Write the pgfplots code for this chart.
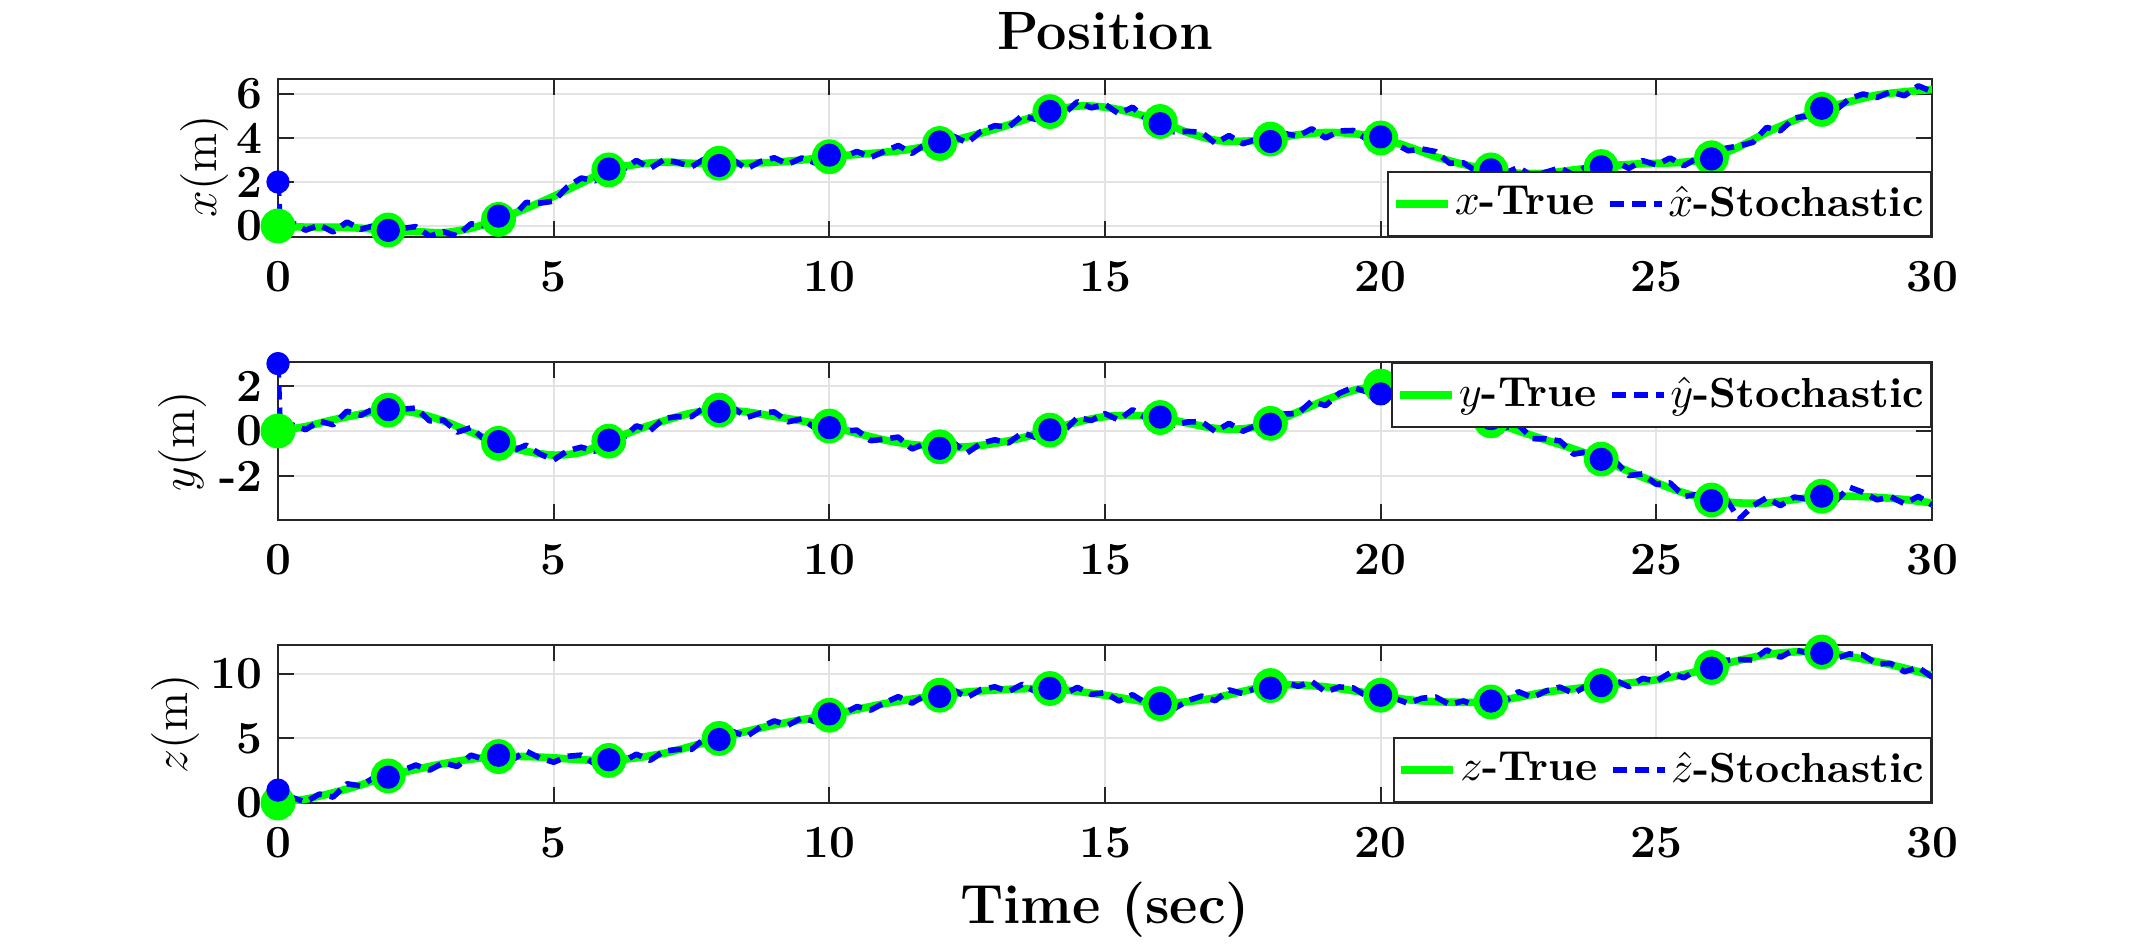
\documentclass[border=0pt]{standalone}
\usepackage{pgfplots}
\pgfplotsset{compat=1.18}
\definecolor{mgreen}{rgb}{0,1,0}
\definecolor{mblue}{rgb}{0,0,1}
\definecolor{axc}{rgb}{0.15,0.15,0.15}
\pgfplotsset{
  panel/.style={
    scale only axis, width=413.5pt, height=39.5pt,
    xmin=0, xmax=30, xtick={0,5,10,15,20,25,30},
    tick align=inside, major tick length=4.1pt,
    axis line style={axc, line width=0.5pt},
    tick style={axc, line width=0.5pt},
    grid=major, major grid style={gray!22, line width=0.5pt},
    tick label style={font=\fontsize{11.5}{13}\selectfont\bfseries},
    /pgf/number format/assume math mode=true,
    xticklabel style={yshift=-2.5pt},
    yticklabel style={xshift=-0.3pt},
    ylabel style={font=\fontsize{12.5}{14}\selectfont, anchor=center, rotate=0},
    legend style={font=\fontsize{10.5}{12}\selectfont, draw=axc, line width=0.5pt, fill=white,
      inner xsep=1pt, inner ysep=2pt, nodes={inner xsep=0.8pt, inner ysep=1.5pt}},
    legend columns=2,
    legend cell align=left,
    legend image code/.code={\draw[##1, mark=none] (0pt,0pt) -- (13pt,0pt);},
    /tikz/every even column/.append style={column sep=2.5pt},
  },
  truestyle/.style={mgreen, line width=1.9pt, solid, smooth, mark=*, mark size=3.4pt,
    mark options={solid, fill=mgreen, draw=mgreen},
    mark indices={1,5,9,13,17,21,25,29,33,37,41,45,49,53,57}},
  eststyle/.style={mblue, line width=1.4pt, dash pattern=on 3.5pt off 2pt, line join=round, mark=*, mark size=2.2pt,
    mark options={solid, fill=mblue, draw=mblue},
    mark indices={1,10,18,26,34,42,50,58,66,74,82,90,98,106,114}},
}
\begin{document}
\begin{tikzpicture}
\path[use as bounding box] (0,0) rectangle (534pt,236pt);
% ---------------- panel 1 ----------------
\begin{axis}[panel, at={(69.5pt,176.75pt)}, anchor=south west,
  ymin=-0.5, ymax=6.68, ytick={0,2,4,6},
  ylabel={$x(\mathrm{m})$}, ylabel style={at={(axis description cs:-0.0447,0.45)}},
  title={Position}, title style={font=\fontsize{13.5}{15}\selectfont\bfseries, at={(0.5,1)}, anchor=base, yshift=1.5pt},
  legend style={at={(1,0)}, anchor=south east}]
\addplot[truestyle] table {
0 0
0.5 -0.05
1 -0.05
1.5 -0.1
2 -0.18
2.5 -0.25
3 -0.3
3.5 -0.1
4 0.3
4.5 0.8
5 1.35
5.5 1.95
6 2.55
6.5 2.8
7 2.9
7.5 2.85
8 2.85
8.5 2.85
9 2.9
9.5 3.0
10 3.15
10.5 3.25
11 3.35
11.5 3.5
12 3.75
12.5 4.05
13 4.4
13.5 4.8
14 5.2
14.5 5.45
15 5.4
15.5 5.15
16 4.75
16.5 4.25
17 3.9
17.5 3.85
18 3.95
18.5 4.15
19 4.25
19.5 4.2
20 4.0
20.5 3.6
21 3.15
21.5 2.8
22 2.55
22.5 2.4
23 2.4
23.5 2.55
24 2.7
24.5 2.8
25 2.85
25.5 2.9
26 3.1
26.5 3.6
27 4.25
27.5 4.8
28 5.3
28.5 5.65
29 5.95
29.5 6.1
30 6.2
};
\addlegendentry{$x$\textbf{-True}}
\addplot[eststyle] table {
0 2.0
0.04 0.08
0.25 0.16
0.5 -0.19
0.75 0.04
1 -0.27
1.25 0.18
1.5 -0.15
1.75 0.02
2 -0.2
2.25 -0.11
2.5 -0.03
2.75 -0.46
3 -0.26
3.25 -0.45
3.5 0.10
3.75 0.01
4 0.45
4.25 0.39
4.5 1.07
4.75 1.04
5 1.13
5.25 1.78
5.5 2.18
5.75 2.05
6 2.59
6.25 2.55
6.5 2.98
6.75 2.62
7 3.01
7.25 2.89
7.5 2.69
7.75 3.07
8 2.75
8.25 3.01
8.5 2.60
8.75 2.93
9 3.10
9.25 2.81
9.5 3.09
9.75 2.86
10 3.22
10.25 3.13
10.5 3.39
10.75 3.12
11 3.39
11.25 3.66
11.5 3.30
11.75 3.73
12 3.82
12.25 4.08
12.5 3.78
12.75 4.30
13 4.56
13.25 4.49
13.5 5.02
13.75 4.84
14 5.21
14.25 5.09
14.5 5.65
14.75 5.37
15 5.53
15.25 5.10
15.5 5.40
15.75 4.86
16 4.65
16.25 4.28
16.5 4.30
16.75 4.26
17 3.76
17.25 4.11
17.5 3.74
17.75 3.94
18 3.84
18.25 4.21
18.5 4.08
18.75 4.42
19 4.00
19.25 4.32
19.5 4.34
19.75 3.94
20 4.05
20.25 3.76
20.5 3.42
20.75 3.50
21 3.38
21.25 2.85
21.5 2.87
21.75 2.46
22 2.55
22.25 2.39
22.5 2.67
22.75 2.26
23 2.45
23.25 2.64
23.5 2.32
23.75 2.73
24 2.69
24.25 2.95
24.5 2.62
24.75 2.97
25 2.78
25.25 3.09
25.5 2.74
25.75 3.09
26 3.05
26.25 3.53
26.5 3.64
26.75 3.80
27 4.48
27.25 4.33
27.5 4.91
27.75 5.00
28 5.35
28.25 5.26
28.5 5.78
28.75 6.00
29 5.84
29.25 6.10
29.5 5.92
29.75 6.37
30 6.11
};
\addlegendentry{$\hat{x}$\textbf{-Stochastic}}
\end{axis}
% ---------------- panel 2 ----------------
\begin{axis}[panel, at={(69.5pt,106pt)}, anchor=south west,
  ymin=-3.96, ymax=3.07, ytick={-2,0,2},
  ylabel={$y(\mathrm{m})$}, ylabel style={at={(axis description cs:-0.058,0.5)}},
  legend style={at={(1,1)}, anchor=north east}]
\addplot[truestyle] table {
0 0
0.5 0.2
1 0.5
1.5 0.75
2 0.93
2.5 0.8
3 0.45
3.5 -0.05
4 -0.55
4.5 -0.9
5 -1.07
5.5 -0.95
6 -0.45
6.5 0.05
7 0.45
7.5 0.8
8 0.93
8.5 0.85
9 0.65
9.5 0.45
10 0.22
10.5 -0.1
11 -0.4
11.5 -0.6
12 -0.7
12.5 -0.7
13 -0.55
13.5 -0.3
14 0.04
14.5 0.4
15 0.64
15.5 0.7
16 0.6
16.5 0.35
17 0.12
17.5 0.1
18 0.34
18.5 0.85
19 1.38
19.5 1.8
20 2.0
20.5 1.85
21 1.4
21.5 0.9
22 0.45
22.5 0.0
23 -0.4
23.5 -0.8
24 -1.25
24.5 -1.8
25 -2.3
25.5 -2.75
26 -3.07
26.5 -3.2
27 -3.2
27.5 -3.05
28 -2.9
28.5 -2.9
29 -2.95
29.5 -3.05
30 -3.2
};
\addlegendentry{$y$\textbf{-True}}
\addplot[eststyle] table {
0 3.0
0.04 0.1
0.25 0.28
0.5 0.06
0.75 0.44
1 0.28
1.25 0.88
1.5 0.70
1.75 1.00
2 0.95
2.25 0.97
2.5 1.02
2.75 0.45
3 0.49
3.25 -0.05
3.5 0.15
3.75 -0.39
4 -0.47
4.25 -0.89
4.5 -0.63
4.75 -1.02
5 -1.29
5.25 -0.88
5.5 -0.72
5.75 -0.90
6 -0.41
6.25 -0.33
6.5 0.23
6.75 0.02
7 0.56
7.25 0.64
7.5 0.64
7.75 1.08
8 0.87
8.25 1.05
8.5 0.60
8.75 0.80
9 0.85
9.25 0.41
9.5 0.54
9.75 0.12
10 0.15
10.25 -0.01
10.5 0.04
10.75 -0.43
11 -0.36
11.25 -0.27
11.5 -0.80
11.75 -0.54
12 -0.77
12.25 -0.52
12.5 -0.97
12.75 -0.55
13 -0.39
13.25 -0.53
13.5 -0.08
13.75 -0.29
14 0.05
14.25 -0.01
14.5 0.60
14.75 0.47
15 0.77
15.25 0.49
15.5 0.95
15.75 0.56
16 0.62
16.25 0.26
16.5 0.40
16.75 0.42
17 -0.02
17.25 0.34
17.5 -0.01
17.75 0.26
18 0.30
18.25 0.76
18.5 0.78
18.75 1.33
19 1.13
19.25 1.68
19.5 1.94
19.75 1.74
20 1.65
20.25 1.89
20.5 1.67
20.75 1.75
21 1.63
21.25 1.02
21.5 0.97
21.75 0.46
22 0.55
22.25 0.14
22.5 0.27
22.75 -0.34
23 -0.35
23.25 -0.44
23.5 -1.03
23.75 -0.92
24 -1.26
24.25 -1.33
24.5 -1.98
24.75 -1.91
25 -2.37
25.25 -2.31
25.5 -2.91
25.75 -2.82
26 -3.10
26.25 -2.96
26.5 -3.93
26.75 -3.33
27 -2.97
27.25 -3.32
27.5 -2.94
27.75 -3.03
28 -2.90
28.25 -3.12
28.5 -2.50
28.75 -2.73
29 -3.06
29.25 -2.93
29.5 -3.23
29.75 -2.91
30 -3.29
};
\addlegendentry{$\hat{y}$\textbf{-Stochastic}}
\end{axis}
% ---------------- panel 3 ----------------
\begin{axis}[panel, at={(69.5pt,35.25pt)}, anchor=south west,
  ymin=0, ymax=12.24, ytick={0,5,10},
  ylabel={$z(\mathrm{m})$}, ylabel style={at={(axis description cs:-0.0617,0.5)}},
  xlabel={Time (sec)}, xlabel style={font=\fontsize{13.8}{15}\selectfont\bfseries, at={(axis description cs:0.5,0)}, anchor=base, yshift=-30pt},
  legend style={at={(1,0)}, anchor=south east}]
\addplot[truestyle] table {
0 0
0.5 0.3
1 0.8
1.5 1.4
2 2.1
2.5 2.6
3 3.05
3.5 3.4
4 3.6
4.5 3.6
5 3.5
5.5 3.35
6 3.3
6.5 3.5
7 3.85
7.5 4.4
8 5.0
8.5 5.55
9 6.05
9.5 6.45
10 6.8
10.5 7.25
11 7.7
11.5 8.05
12 8.35
12.5 8.6
13 8.75
13.5 8.85
14 8.87
14.5 8.65
15 8.35
15.5 8.0
16 7.7
16.5 7.85
17 8.15
17.5 8.65
18 9.1
18.5 9.15
19 9.0
19.5 8.7
20 8.35
20.5 8.0
21 7.85
21.5 7.8
22 7.83
22.5 8.2
23 8.6
23.5 8.85
24 9.1
24.5 9.3
25 9.55
25.5 9.95
26 10.5
26.5 11.05
27 11.5
27.5 11.7
28 11.7
28.5 11.35
29 10.95
29.5 10.45
30 9.9
};
\addlegendentry{$z$\textbf{-True}}
\addplot[eststyle] table {
0 1.0
0.04 0.05
0.25 0.43
0.5 0.08
0.75 0.69
1 0.46
1.25 1.49
1.5 1.32
1.75 2.00
2 2.0
2.25 2.52
2.5 2.94
2.75 2.55
3 3.11
3.25 2.83
3.5 3.71
3.75 3.36
4 3.70
4.25 3.35
4.5 4.02
4.75 3.49
5 3.16
5.25 3.62
5.5 3.71
5.75 3.02
6 3.35
6.25 3.20
6.5 3.78
6.75 3.31
7 4.02
7.25 4.15
7.5 4.15
7.75 5.04
8 4.92
8.25 5.53
8.5 5.16
8.75 5.88
9 6.36
9.25 6.03
9.5 6.59
9.75 6.29
10 6.90
10.25 6.91
10.5 7.47
10.75 7.20
11 7.76
11.25 8.24
11.5 7.74
11.75 8.37
12 8.26
12.25 8.76
12.5 8.18
12.75 8.79
13 9.00
13.25 8.63
13.5 9.19
13.75 8.61
14 8.88
14.25 8.40
14.5 8.96
14.75 8.42
15 8.55
15.25 7.90
15.5 8.39
15.75 7.71
16 7.70
16.25 7.30
16.5 7.93
16.75 8.28
17 7.93
17.25 8.76
17.5 8.48
17.75 8.93
18 8.90
18.25 9.38
18.5 9.04
18.75 9.41
19 8.61
19.25 8.99
19.5 8.92
19.75 8.27
20 8.35
20.25 8.12
20.5 7.72
20.75 8.12
21 8.21
21.25 7.63
21.5 7.91
21.75 7.48
22 7.90
22.25 7.88
22.5 8.62
22.75 8.18
23 8.68
23.25 8.98
23.5 8.49
23.75 9.14
24 9.09
24.25 9.51
24.5 9.02
24.75 9.65
25 9.44
25.25 10.09
25.5 9.70
25.75 10.37
26 10.45
26.25 11.06
26.5 11.11
26.75 11.08
27 11.86
27.25 11.29
27.5 11.87
27.75 11.62
28 11.60
28.25 11.19
28.5 11.55
28.75 11.46
29 10.78
29.25 10.81
29.5 10.17
29.75 10.51
30 9.76
};
\addlegendentry{$\hat{z}$\textbf{-Stochastic}}
\end{axis}
\end{tikzpicture}
\end{document}
